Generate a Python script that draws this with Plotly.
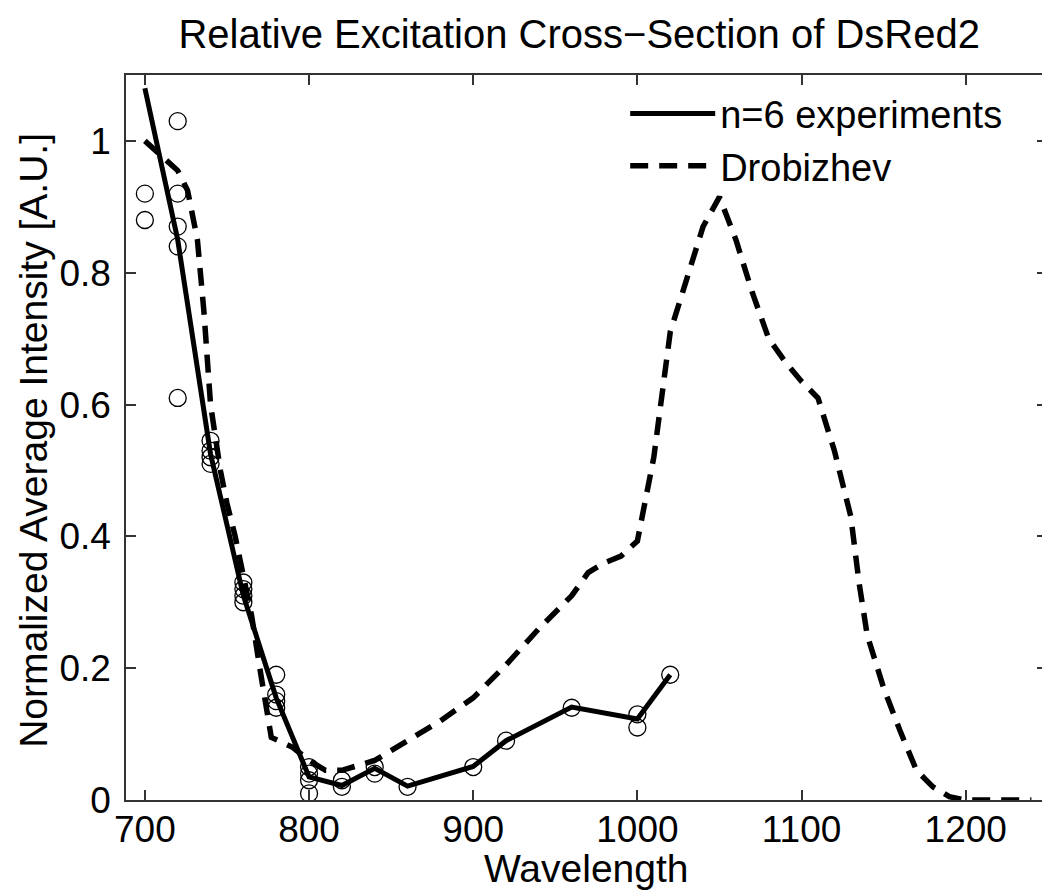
import plotly.graph_objects as go

# Individual measurements (open circles)
pts_wl = [700, 700,
          720, 720, 720, 720, 720,
          740, 740, 740, 740,
          760, 760, 760, 760,
          780, 780, 780, 780,
          800, 800, 800, 800,
          820, 820, 840, 840, 860, 900, 920, 960,
          1000, 1000, 1020]
pts_val = [0.92, 0.88,
           1.03, 0.92, 0.87, 0.84, 0.61,
           0.545, 0.53, 0.52, 0.51,
           0.33, 0.32, 0.31, 0.30,
           0.19, 0.16, 0.15, 0.14,
           0.05, 0.04, 0.03, 0.01,
           0.03, 0.02, 0.05, 0.04, 0.02, 0.05, 0.09, 0.14,
           0.13, 0.11, 0.19]

# Mean of n=6 experiments
mean_wl = [700, 720, 740, 760, 780, 800, 820, 840, 860, 900, 920, 960, 1000, 1020]
mean_val = [1.08, 0.85, 0.525, 0.31, 0.155, 0.035, 0.022, 0.048, 0.021, 0.051,
            0.09, 0.141, 0.123, 0.19]

# Drobizhev reference spectrum
drob_wl = [700, 720, 726, 732, 736, 740, 746, 750, 755, 760, 765, 770, 777, 790,
           800, 810, 820, 840, 850, 860, 880, 900, 920, 940, 960, 970, 980, 990,
           1000, 1010, 1020, 1030, 1040, 1050, 1060, 1070, 1080, 1090, 1100, 1110,
           1120, 1130, 1135, 1140, 1150, 1160, 1170, 1180, 1190, 1200, 1240]
drob_val = [1.0, 0.955, 0.925, 0.85, 0.74, 0.6, 0.5, 0.45, 0.4, 0.34, 0.28, 0.2,
            0.095, 0.08, 0.06, 0.045, 0.045, 0.06, 0.075, 0.088, 0.12, 0.155, 0.205,
            0.26, 0.31, 0.345, 0.36, 0.37, 0.393, 0.52, 0.71, 0.79, 0.87, 0.915,
            0.85, 0.77, 0.70, 0.665, 0.635, 0.61, 0.53, 0.43, 0.33, 0.25, 0.17,
            0.105, 0.045, 0.02, 0.005, 0.0, 0.0]

FONT = 'Liberation Sans, Arial, Helvetica, sans-serif'

fig = go.Figure()

fig.add_trace(go.Scatter(
    x=pts_wl, y=pts_val, mode='markers', showlegend=False,
    marker=dict(symbol='circle-open', size=17, color='black', line=dict(width=1.3)),
))
fig.add_trace(go.Scatter(
    name='n=6 experiments', x=mean_wl, y=mean_val, mode='lines',
    line=dict(color='black', width=5),
))
fig.add_trace(go.Scatter(
    name='Drobizhev', x=drob_wl, y=drob_val, mode='lines',
    line=dict(color='black', width=5.5, dash='18px,11px'),
))

axis_style = dict(
    showgrid=False, zeroline=False, showline=True, mirror='ticks',
    linecolor='#333', linewidth=1.5, ticks='inside', ticklen=10,
    tickwidth=1.5, tickcolor='#333',
    tickfont=dict(family=FONT, size=37, color='black'),
)

fig.update_xaxes(range=[688.5, 1249.5], tickvals=[700, 800, 900, 1000, 1100, 1200],
                 ticklabelstandoff=-4, **axis_style)
fig.update_yaxes(range=[0, 1.1], tickvals=[0, 0.2, 0.4, 0.6, 0.8, 1],
                 ticktext=['0', '0.2', '0.4', '0.6', '0.8', '1'],
                 ticklabelstandoff=6, **axis_style)

# axis titles as annotations so they sit where the original has them
label_font = dict(family=FONT, size=39, color='black')
fig.add_annotation(text='Wavelength', xref='paper', yref='paper', x=0.5, y=-0.094,
                   xanchor='center', yanchor='middle', showarrow=False, font=label_font)
fig.add_annotation(text='Normalized Average Intensity [A.U.]', xref='paper', yref='paper',
                   x=-0.1, y=0.4966, textangle=-90, xanchor='center', yanchor='middle',
                   showarrow=False, font=label_font)

fig.update_layout(
    width=1050, height=891,
    margin=dict(l=118, r=9, t=67, b=99),
    paper_bgcolor='white', plot_bgcolor='white',
    title=dict(text='Relative Excitation Cross\u2212Section of DsRed2',
               font=dict(family=FONT, size=40, color='black'),
               x=0.544, xanchor='center', y=0.971, yanchor='middle'),
    legend=dict(x=0.542, y=0.99, xanchor='left', yanchor='top',
                bgcolor='rgba(0,0,0,0)', font=dict(family=FONT, size=38, color='black'),
                itemwidth=85),
)

fig.write_html('out.html')
